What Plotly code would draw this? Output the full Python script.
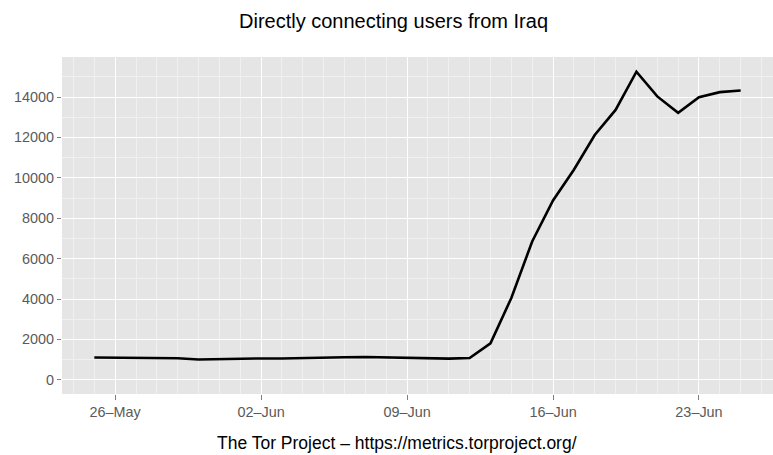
import plotly.graph_objects as go
import pandas as pd

dates = pd.date_range("2014-05-25", "2014-06-25", freq="D").strftime("%Y-%m-%d").tolist()
users = [1110, 1100, 1090, 1080, 1070, 1010, 1030, 1070, 1060, 1060,
         1090, 1110, 1120, 1130, 1110, 1090, 1040, 1050, 1080, 1810,
         4050, 6850, 8880, 10400, 12120, 13360, 15250, 14030, 13220, 13990,
         14240, 14320]

x_tickvals = ["2014-05-26", "2014-06-02", "2014-06-09", "2014-06-16", "2014-06-23"]
x_ticktext = ["26\u2013May", "02\u2013Jun", "09\u2013Jun", "16\u2013Jun", "23\u2013Jun"]
y_tickvals = [0, 2000, 4000, 6000, 8000, 10000, 12000, 14000]
y_ticktext = ["0", "2000", "4000", "6000", "8000", "10000", "12000", "14000"]

title = "Directly connecting users from Iraq"
caption = "The Tor Project \u2013 https://metrics.torproject.org/"

FONT = "Liberation Sans, Arial, Helvetica, sans-serif"

fig = go.Figure()
fig.add_trace(go.Scatter(x=dates, y=users, mode="lines",
                         line=dict(color="black", width=2.6), hoverinfo="x+y"))

W, H = 773, 455
L, R, T, B = 62, 0, 57, 61

fig.update_layout(
    width=W, height=H,
    margin=dict(l=L, r=R, t=T, b=B, autoexpand=False),
    paper_bgcolor="white", plot_bgcolor="#E5E5E5",
    showlegend=False,
    font=dict(family=FONT),
    xaxis=dict(
        type="date", automargin=False,
        range=["2014-05-23 10:48", "2014-06-26 13:12"],
        tickvals=x_tickvals, ticktext=x_ticktext,
        showgrid=True, gridcolor="white", gridwidth=1.3,
        ticks="outside", ticklen=5, tickcolor="#7f7f7f", tickwidth=1,
        tickfont=dict(size=14.4, color="#5a5a5a", family=FONT),
        minor=dict(dtick=86400000, tick0="2014-05-25", showgrid=True,
                   gridcolor="#F0F0F0", gridwidth=0.6),
        zeroline=False, showline=False, fixedrange=True,
    ),
    yaxis=dict(
        automargin=False,
        range=[-700, 15980],
        tickvals=y_tickvals, ticktext=y_ticktext,
        showgrid=True, gridcolor="white", gridwidth=1.3,
        ticks="outside", ticklen=4, tickcolor="#7f7f7f", tickwidth=1,
        tickfont=dict(size=14.4, color="#5a5a5a", family=FONT),
        minor=dict(dtick=1000, tick0=0, showgrid=True,
                   gridcolor="#F0F0F0", gridwidth=0.6),
        zeroline=False, showline=False, fixedrange=True,
    ),
    annotations=[
        dict(text=title, xref="paper", yref="paper",
             x=(393 - L) / (W - L - R), y=1 + (T - 21) / (H - T - B),
             xanchor="center", yanchor="middle", showarrow=False,
             font=dict(size=20, color="black", family=FONT)),
        dict(text=caption, xref="paper", yref="paper",
             x=(397 - L) / (W - L - R), y=-(443 - (H - B)) / (H - T - B),
             xanchor="center", yanchor="middle", showarrow=False,
             font=dict(size=17.5, color="black", family=FONT)),
    ],
)

fig.write_html("out.html", config={"displayModeBar": False},
               post_script="document.body.style.margin='0';document.body.style.overflow='hidden';")
